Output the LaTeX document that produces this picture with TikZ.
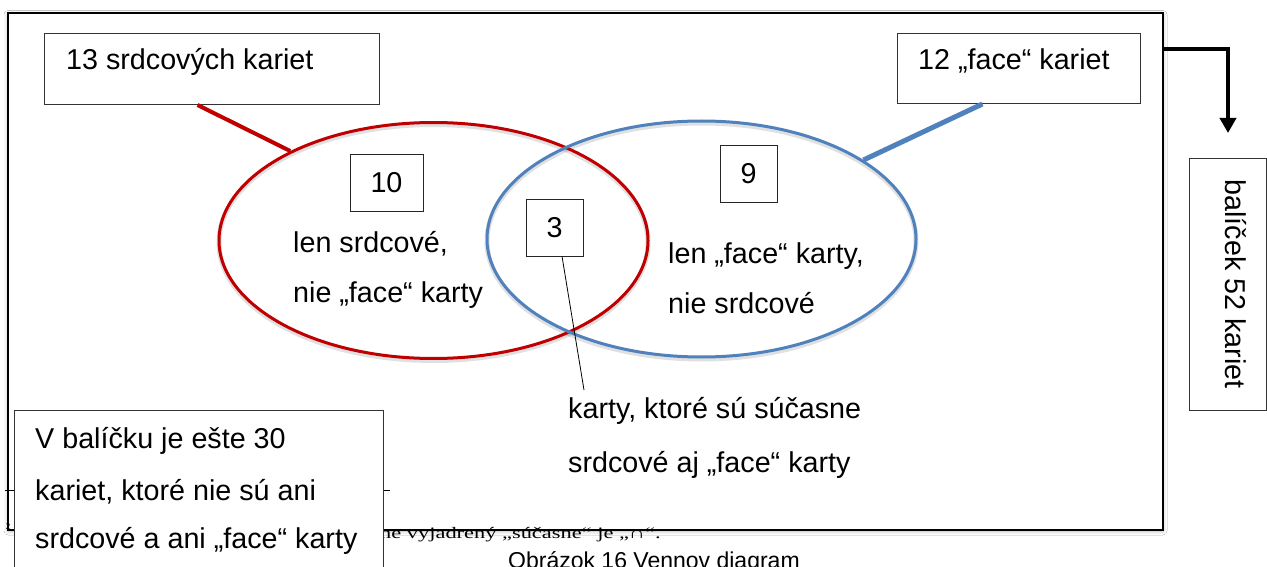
\documentclass[tikz,border=0pt]{standalone}
\usepackage{fontspec}
\setmainfont{Liberation Sans}
\newfontfamily\notefont{Liberation Serif}
\usetikzlibrary{shapes.geometric,calc,arrows.meta,shadows.blur}
\definecolor{heartred}{RGB}{192,0,0}
\definecolor{faceblue}{RGB}{79,129,189}

\begin{document}
\begin{tikzpicture}[x=1pt,y=-1pt,
  txt/.style={inner sep=0pt, anchor=base west, font=\fontsize{28.7}{34}\selectfont},
  labelbox/.style={draw=black!80, line width=1pt, fill=white, inner sep=0pt, anchor=north west},
  numbox/.style={draw=black!85, line width=1pt, inner sep=0pt, minimum height=56pt,
    font=\fontsize{28.7}{34}\selectfont},
  setring/.style={ellipse, draw, line width=3pt, inner sep=0pt,
    minimum width=429pt, minimum height=236pt},
  ringshade/.style={draw=black, opacity=0.12, line width=5pt},
  pointer/.style={line width=0.8pt},
  bigarrow/.style={line width=4pt, -{Triangle[width=16pt,length=15pt]}}
]
\clip (0,0) rectangle (1267,567);
\fill[white] (0,0) rectangle (1267,567);

% outer frame of the deck
\node[draw=black, line width=2pt, fill=white, inner sep=0pt, anchor=north west,
  minimum width=1155pt, minimum height=516.5pt,
  blur shadow={shadow xshift=0pt, shadow yshift=-1pt, shadow blur radius=4pt, shadow opacity=30}]
  (frame) at (7,12.5) {};

% footnote rule, footnote and caption below the frame
\draw[line width=0.8pt] (5,490) -- (390,490);
\node[inner sep=0pt] (fnmark) at (8,527) {\notefont\fontsize{9}{10}\selectfont 2};
\node[inner sep=0pt, anchor=base west] (fntext) at (380,538.5)
  {\scalebox{1.4}[1]{\notefont\fontsize{16}{19}\selectfont ne vyjadrený „súčasne“ je „∩“.}};
\node[inner sep=0pt, anchor=base west, font=\fontsize{23}{27}\selectfont] (caption) at (508,568.5)
  {Obrázok 16 Vennov diagram};

% soft shading under the two sets
\draw[ringshade] (433.5,242.5) ellipse [x radius=214.5pt, y radius=118pt];
\draw[ringshade] (701.5,241) ellipse [x radius=214.5pt, y radius=118pt];

% the two sets
\node[setring, draw=heartred] (hearts) at (433.5,240.5) {};
\node[setring, draw=faceblue] (faces) at (701.5,239) {};

% label boxes
\node[labelbox, minimum width=335pt, minimum height=71pt] (b13) at (44,33) {};
\node[labelbox, minimum width=243pt, minimum height=70pt] (b12) at (897,33) {};

% connectors from the label boxes to the sets
\draw[heartred, line width=4pt] ($(b13.south west)!0.457!(b13.south east)$) -- (hearts.148);
\draw[faceblue, line width=5pt] ($(b12.south west)!0.35!(b12.south east)$) -- (faces.26);

\node[txt] (t13) at (66,70) {13 srdcových kariet};
\node[txt] (t12) at (918,70) {12 „face“ kariet};

% counts in each region
\node[numbox, minimum width=73pt] (n10) at (386.5,183) {10};
\node[numbox, minimum width=57pt] (n9) at (748.5,174) {9};
\node[numbox, minimum width=57pt, minimum height=57pt] (n3) at (554.5,227.5) {3};

\node[txt] (h1) at (293,252) {len srdcové,};
\node[txt] (h2) at (293,302) {nie „face“ karty};
\node[txt] (f1) at (668,263) {len „face“ karty,};
\node[txt] (f2) at (668,313) {nie srdcové};

% pointer from the intersection count to its description
\coordinate (bothend) at (584,390);
\draw[pointer] ($(n3.south west)!0.63!(n3.south east)$) -- (bothend);
\node[txt] (c1) at (568,418) {karty, ktoré sú súčasne};
\node[txt] (c2) at (568,472) {srdcové aj „face“ karty};

% the whole deck
\node[labelbox, minimum width=77pt, minimum height=252pt] (deck) at (1189,158) {};
\node[inner sep=0pt, anchor=base, rotate=-90, font=\fontsize{28.7}{34}\selectfont]
  (decktext) at (1225,284) {balíček 52 kariet};
\draw[bigarrow] ($(frame.north east)+(0,37)$) -| ($(deck.north)+(0,-25)$);

% cards outside both sets
\node[labelbox, minimum width=369pt, minimum height=170pt] (rest) at (14,410) {};
\node[txt] (r1) at (35,448) {V balíčku je ešte 30};
\node[txt] (r2) at (35,500) {kariet, ktoré nie sú ani};
\node[txt] (r3) at (35,548) {srdcové a ani „face“ karty};
\end{tikzpicture}
\end{document}
